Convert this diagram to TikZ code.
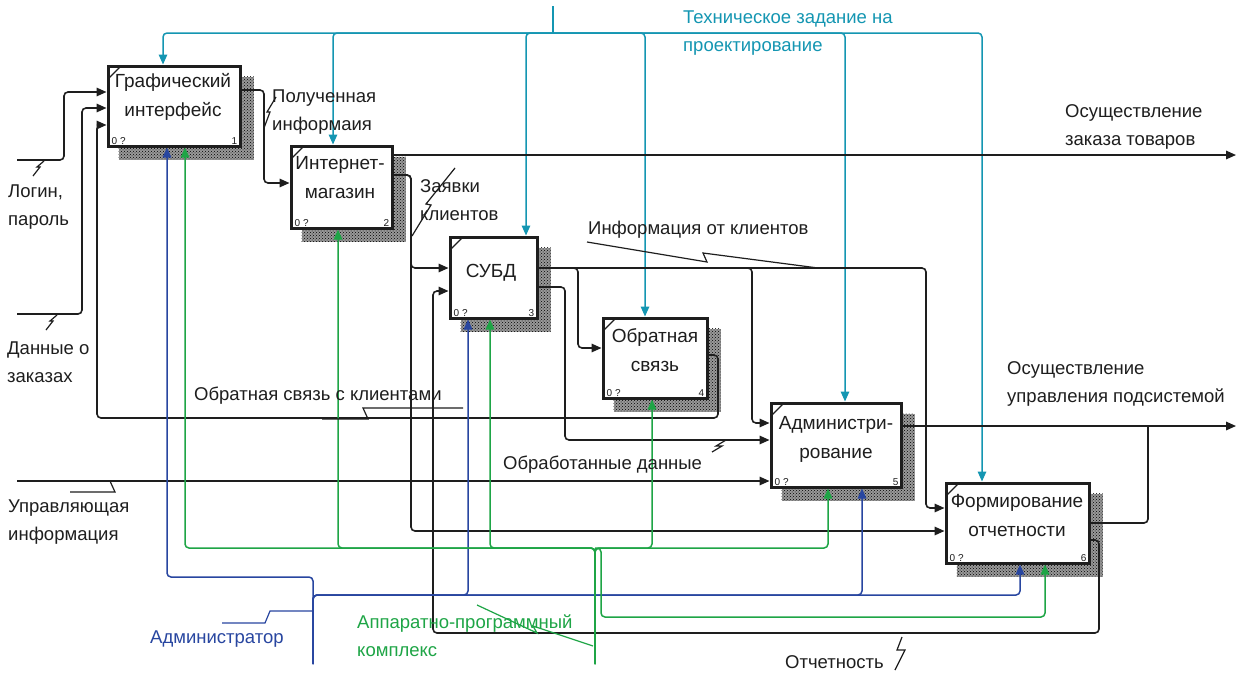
\documentclass[tikz,border=0pt]{standalone}
\usepackage{fontspec}
\setmainfont{Liberation Sans}
\usetikzlibrary{arrows.meta,patterns,backgrounds,calc}
\definecolor{tealc}{RGB}{20,150,178}
\definecolor{bluec}{RGB}{40,70,160}
\definecolor{greenc}{RGB}{30,165,70}
\definecolor{inkc}{RGB}{30,30,30}
\begin{document}
\begin{tikzpicture}[x=1pt,y=-1pt,
  fbox/.style={draw=inkc, line width=3pt, fill=white, inner sep=0pt},
  btxt/.style={font=\fontsize{19}{29}\selectfont, align=center, inner sep=0pt, text=inkc},
  lbl/.style={font=\fontsize{18.5}{28}\selectfont, align=left, inner sep=0pt, anchor=west, text=inkc},
  idx/.style={font=\fontsize{10}{10}\selectfont, inner sep=0pt, text=inkc},
  conn/.style={draw=inkc, line width=1.6pt, rounded corners=4pt},
  arr/.style={-{Triangle[length=10pt,width=8.5pt]}},
  tl/.style={conn, draw=tealc, line width=1.5pt},
  bl/.style={conn, draw=bluec, line width=1.5pt},
  gl/.style={conn, draw=greenc, line width=1.5pt},
  sq/.style={draw=inkc, line width=1.2pt},
]
\useasboundingbox (0,0) rectangle (1244,672);

% boxes
\node[fbox, minimum width=132pt, minimum height=80pt] (b1) at (174,106) {};
\node[fbox, minimum width=101pt, minimum height=82pt] (b2) at (341.5,187) {};
\node[fbox, minimum width=87pt, minimum height=81pt] (b3) at (493.5,277.5) {};
\node[fbox, minimum width=104pt, minimum height=80pt] (b4) at (655,358) {};
\node[fbox, minimum width=130pt, minimum height=84pt] (b5) at (836,445) {};
\node[fbox, minimum width=143pt, minimum height=80pt] (b6) at (1017.5,523) {};

\begin{scope}[on background layer]
\fill[white] (0,0) rectangle (1244,672);
\foreach \bx in {b1,b2,b3,b4,b5,b6}{
  \fill[black!40] ($(\bx.north west)+(12,12)$) rectangle ($(\bx.south east)+(12,12)$);
  \fill[pattern=crosshatch dots, pattern color=black] ($(\bx.north west)+(12,12)$) rectangle ($(\bx.south east)+(12,12)$);
}
\end{scope}

\foreach \bx/\n in {b1/1,b2/2,b3/3,b4/4,b5/5,b6/6}{
  \node[idx, anchor=south west] (\bx z) at ($(\bx.south west)+(5,-3)$) {0 ?};
  \node[idx, anchor=south east] (\bx n) at ($(\bx.south east)+(-4,-3)$) {\n};
  \draw[inkc, line width=1.3pt] ($(\bx.north west)+(3,13)$) -- ($(\bx.north west)+(13,3)$);
}

\node[btxt] (t1) at (173,97) {Графический\\интерфейс};
\node[btxt] (t2) at (340,178) {Интернет-\\магазин};
\node[btxt] (t3) at (491,273) {СУБД};
\node[btxt] (t4) at (655,350) {Обратная\\связь};
\node[btxt] (t5) at (836,439) {Администри-\\рование};
\node[btxt] (t6) at (1017,516) {Формирование\\отчетности};

% controls (teal)
\coordinate (tz) at (553,6);
\coordinate (tzj) at (553,33);
\draw[tl] (tz) -- (tzj);
\draw[tl,arr] (tzj) -| (b1.north -| 163,0);
\draw[tl,arr] (tzj) -| (b2.north -| 333,0);
\draw[tl,arr] (tzj) -| (b3.north -| 526,0);
\draw[tl,arr] (tzj) -| (b4.north -| 645,0);
\draw[tl,arr] (tzj) -| (b5.north -| 845,0);
\draw[tl,arr] (tzj) -| (b6.north -| 982,0);

% black inputs / outputs
\coordinate (login) at (17,160);
\draw[conn,arr] (login) -- (64,160) |- (b1.west |- 0,92);
\coordinate (dann) at (17,314);
\draw[conn,arr] (dann) -- (82,314) |- (b1.west |- 0,108);
\draw[conn,arr] (b4.east |- 0,355) -| (718,418) -- (97,418) |- (b1.west |- 0,125);
\draw[conn,arr] (b1.east |- 0,90) -| (264,183) -- (b2.west |- 0,183);
\coordinate (o1) at (1236,155);
\draw[conn,arr] (b2.east |- 0,155) -- (o1);
\draw[conn,arr] (b2.east |- 0,175) -| (411,268) -- (b3.west |- 0,268);
\draw[conn,arr] (b2.east |- 0,175) -| (411,531) -- (b6.west |- 0,531);
\draw[conn,arr] (b3.east |- 0,268) -| (578,348) -- (b4.west |- 0,348);
\draw[conn,arr] (b3.east |- 0,268) -| (752,423) -- (b5.west |- 0,423);
\draw[conn,arr] (b3.east |- 0,268) -| (926,508) -- (b6.west |- 0,508);
\draw[conn,arr] (b3.east |- 0,287) -| (565,440) -- (b5.west |- 0,440);
\coordinate (upr) at (17,481);
\draw[conn,arr] (upr) -- (b5.west |- 0,481);
\coordinate (o2) at (1236,426);
\draw[conn,arr] (b5.east |- 0,426) -- (o2);
\draw[conn] (b6.east |- 0,523) -| (1148,426);
\draw[conn,arr] (b6.east |- 0,540) -| (1099,633) -| (433,291) -- (b3.west |- 0,291);

% mechanisms blue
\coordinate (adm) at (313,664);
\draw[bl,arr] (adm) |- (167,577) -- (b1.south -| 167,0);
\draw[bl,arr] (adm) |- (468,595) -- (b3.south -| 468,0);
\draw[bl,arr] (adm) |- (862,595) -- (b5.south -| 862,0);
\draw[bl,arr] (adm) |- (1020,595) -- (b6.south -| 1020,0);

% mechanisms green
\coordinate (apk) at (595,664);
\coordinate (gj) at (595,548);
\draw[gl,arr] (apk) |- (185,548) -- (b1.south -| 185,0);
\draw[gl,arr] (apk) |- (338,548) -- (b2.south -| 338,0);
\draw[gl,arr] (apk) |- (490,548) -- (b3.south -| 490,0);
\draw[gl,arr] (apk) |- (652,548) -- (b4.south -| 652,0);
\draw[gl,arr] (apk) |- (828,548) -- (b5.south -| 828,0);
\draw[gl,arr] (gj) -| (601,617) -| (b6.south -| 1045,0);

% squiggles
\draw[sq] (33,176) -- (40,167) -- (37,167) -- (44,161);
\draw[sq] (264,128) -- (270,112) -- (267,112) -- (276,97);
\draw[sq] (412,236) -- (431,205) -- (426,204) -- (455,168);
\draw[sq] (587,242) -- (707,262) -- (703,253) -- (818,268);
\draw[sq] (46,330) -- (53,321) -- (50,321) -- (57,315);
\draw[sq] (322,419) -- (368,419) -- (363,408) -- (463,408);
\draw[sq] (712,452) -- (722,446) -- (716,446) -- (726,440);
\draw[sq] (70,492) -- (115,492) -- (110,481) -- (128,481);
\draw[sq, draw=bluec] (222,623) -- (265,623) -- (270,611) -- (313,611);
\draw[sq, draw=greenc] (477,605) -- (537,633) -- (533,626) -- (593,646);
\draw[sq] (902,637) -- (897,650) -- (905,650) -- (895,670);

% labels
\node[lbl, text=tealc] (lz) at (683,33) {Техническое задание на\\проектирование};
\node[lbl] (lp) at (272,112) {Полученная\\информаия};
\node[lbl] (lo1) at (1065,127) {Осуществление\\заказа товаров};
\node[lbl] (ll) at (8,207) {Логин,\\пароль};
\node[lbl] (lzk) at (420,200) {Заявки\\клиентов};
\node[lbl] (lik) at (588,230) {Информация от клиентов};
\node[lbl] (ld) at (7,362) {Данные о\\заказах};
\node[lbl] (lok) at (194,396) {Обратная связь с клиентами};
\node[lbl] (lo2) at (1007,384) {Осуществление\\управления подсистемой};
\node[lbl] (lobd) at (503,465) {Обработанные данные};
\node[lbl] (lu) at (8,522) {Управляющая\\информация};
\node[lbl, text=bluec] (la) at (150,639) {Администратор};
\node[lbl, text=greenc] (lapk) at (357,636) {Аппаратно-программный\\комплекс};
\node[lbl] (lot) at (785,662) {Отчетность};
\end{tikzpicture}
\end{document}
